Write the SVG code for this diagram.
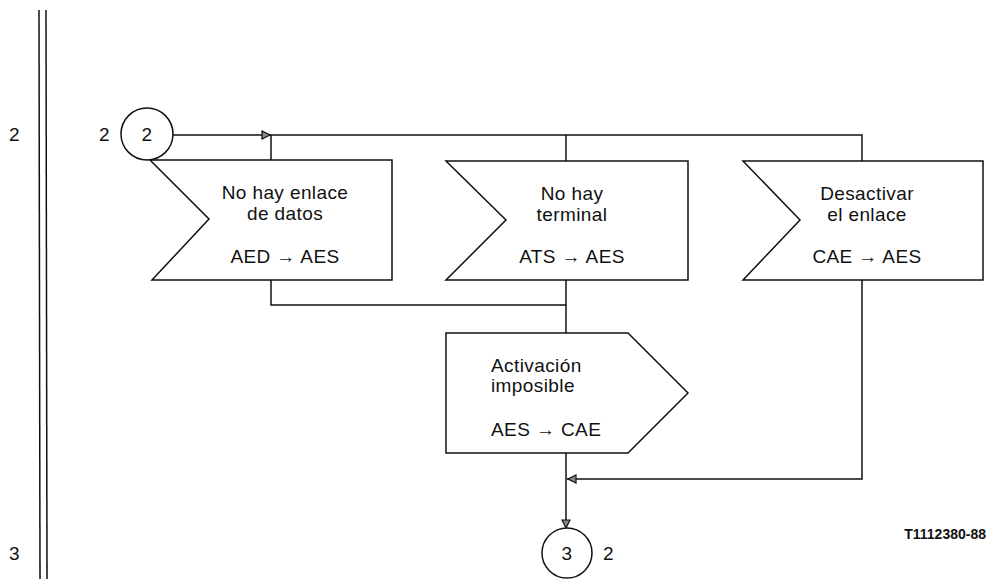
<svg xmlns="http://www.w3.org/2000/svg" width="990" height="579" viewBox="0 0 990 579">
<style>
.ln{fill:none;stroke:#111;stroke-width:1.5}
.sh{fill:#fff;stroke:#111;stroke-width:1.5;stroke-linejoin:miter}
.ah{fill:#888;stroke:#111;stroke-width:1.2}
.t{font-family:"Liberation Sans",Arial,sans-serif;font-size:19px;fill:#111;letter-spacing:0.4px}
.c{text-anchor:middle}
.id{font-family:"Liberation Sans",Arial,sans-serif;font-size:14px;font-weight:bold;fill:#111}
</style>
<g id="margin">
<line class="ln" x1="39" y1="10" x2="40" y2="579"/>
<line class="ln" x1="46" y1="10" x2="47" y2="579"/>
<text class="t" x="9" y="141">2</text>
<text class="t" x="9" y="560">3</text>
</g>
<g id="connectors">
<polyline class="ln" points="173,135 862,135 862,161"/>
<line class="ln" x1="271" y1="135" x2="271" y2="161"/>
<line class="ln" x1="566" y1="135" x2="566" y2="161"/>
<polyline class="ln" points="271,280 271,305 566,305"/>
<line class="ln" x1="566" y1="280" x2="566" y2="333"/>
<polyline class="ln" points="862,280 862,479 567,479"/>
<line class="ln" x1="566" y1="453" x2="566" y2="528"/>
<polygon class="ah" points="262,131 262,139 270,135"/>
<polygon class="ah" points="576,475 576,483 568,479"/>
<polygon class="ah" points="562,520 570,520 566,528"/>
</g>
<g id="start">
<circle class="sh" cx="147" cy="134" r="26"/>
<text class="t c" x="147" y="141">2</text>
<text class="t" x="99" y="141">2</text>
</g>
<g id="input1">
<polygon class="sh" points="150,160 392,160 392,280 152,280 209,219"/>
<text class="t c" x="285" y="199">No hay enlace</text>
<text class="t c" x="285" y="220">de datos</text>
<text class="t c" x="285" y="263">AED → AES</text>
</g>
<g id="input2">
<polygon class="sh" points="446,161 688,161 688,280 446,280 506,220"/>
<text class="t c" x="572" y="200">No hay</text>
<text class="t c" x="572" y="221">terminal</text>
<text class="t c" x="572" y="263">ATS → AES</text>
</g>
<g id="input3">
<polygon class="sh" points="743,161 983,161 983,280 743,280 800,220"/>
<text class="t c" x="867" y="200">Desactivar</text>
<text class="t c" x="867" y="221">el enlace</text>
<text class="t c" x="867" y="263">CAE → AES</text>
</g>
<g id="output1">
<polygon class="sh" points="446,333 628,333 688,393 628,453 446,453"/>
<text class="t" x="491" y="372">Activación</text>
<text class="t" x="491" y="392">imposible</text>
<text class="t" x="491" y="436">AES → CAE</text>
</g>
<g id="end">
<circle class="sh" cx="567" cy="553" r="25"/>
<text class="t c" x="567" y="560">3</text>
<text class="t" x="603" y="560">2</text>
</g>
<text class="id" x="986" y="539" text-anchor="end">T1112380-88</text>
</svg>
